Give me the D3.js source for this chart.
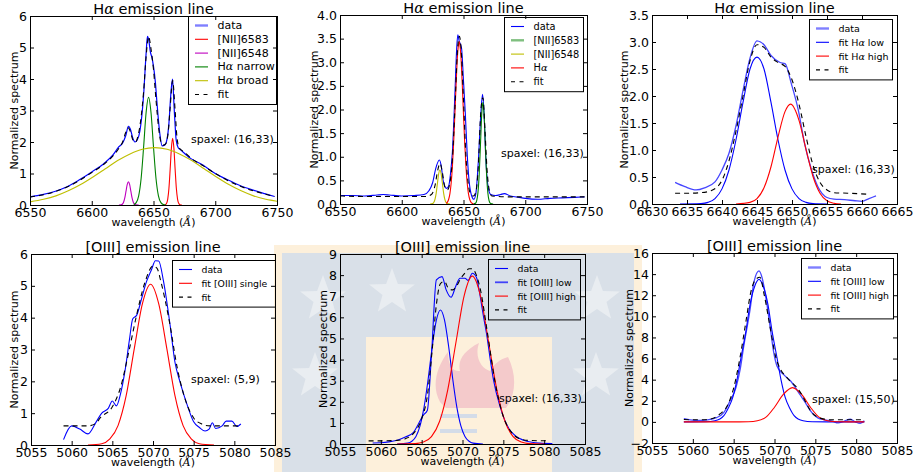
<!DOCTYPE html>
<html><head><meta charset="utf-8">
<script src="https://cdn.jsdelivr.net/npm/d3@7"></script>
<style>
body{margin:0;background:#fff}
svg{display:block}
text{font-family:"DejaVu Sans",sans-serif;fill:#000}
</style>
</head><body>
<svg id="c" width="916" height="472"></svg>
<script>
// ---------------- DATA ----------------
// Panel 1 : H-alpha, spaxel (16,33)
const p1Data = [[6550,0.26],[6560,0.33],[6570,0.43],[6580,0.58],[6590,0.8],[6600,1.05],[6610,1.32],[6617,1.58],[6622,1.85],[6625,1.97],[6627.5,2.2],[6629.7,2.5],[6631.5,2.38],[6633,2.15],[6635,2.0],[6637,2.08],[6639,2.35],[6642,3.5],[6644,4.8],[6645.1,5.35],[6646.3,5.2],[6647.5,4.85],[6648.6,4.7],[6650,4.4],[6651.5,3.9],[6652.7,3.3],[6655,2.3],[6657,1.88],[6659,1.9],[6661,2.1],[6662.5,2.6],[6664,3.5],[6665.4,4.0],[6666.7,3.1],[6668.4,2.05],[6670,1.82],[6672,1.75],[6680,1.48],[6690,1.27],[6700,1.0],[6710,0.8],[6720,0.62],[6730,0.48],[6740,0.36],[6748,0.27]];
const p1N6583 = [[6659,0],[6659.5,0.008],[6660.5,0.045],[6661.5,0.18],[6662.5,0.53],[6663.5,1.14],[6664.5,1.81],[6665.5,2.12],[6666.5,1.81],[6667.5,1.14],[6668.5,0.53],[6669.5,0.18],[6670.5,0.045],[6671.5,0.008],[6673,0]];
const p1N6548 = [[6622,0],[6623.7,0.005],[6624.7,0.023],[6625.7,0.079],[6626.7,0.215],[6627.7,0.43],[6628.7,0.645],[6629.7,0.74],[6630.7,0.645],[6631.7,0.43],[6632.7,0.215],[6633.7,0.079],[6634.7,0.023],[6635.7,0.005],[6638,0]];
const p1Narrow = [[6634,0.013],[6636,0.074],[6638,0.29],[6640,0.85],[6642,1.84],[6644,2.93],[6646,3.42],[6648,2.93],[6650,1.84],[6652,0.85],[6654,0.29],[6656,0.074],[6658,0.013],[6660,0]];
const p1Broad = [[6550,0.1],[6561,0.18],[6571,0.29],[6581,0.45],[6591,0.65],[6601,0.89],[6611,1.15],[6621,1.41],[6631,1.62],[6641,1.77],[6651,1.82],[6661,1.77],[6671,1.62],[6681,1.41],[6691,1.15],[6701,0.89],[6711,0.65],[6721,0.45],[6731,0.29],[6741,0.18],[6750,0.12]];
const p1Fit = [[6550,0.25],[6560,0.32],[6570,0.42],[6580,0.57],[6590,0.78],[6600,1.03],[6610,1.3],[6617,1.55],[6622,1.8],[6625,2.0],[6627.5,2.3],[6629.7,2.45],[6631.5,2.3],[6633.5,2.05],[6635.5,2.0],[6637.5,2.2],[6640,2.8],[6642,3.6],[6644,4.7],[6646,5.35],[6648,4.95],[6650,4.3],[6652,3.35],[6654,2.5],[6656,2.0],[6658,1.9],[6660,1.95],[6662,2.35],[6663.5,3.1],[6665.5,3.95],[6667.5,3.0],[6669,2.15],[6671,1.8],[6675,1.68],[6680,1.5],[6690,1.25],[6700,1.0],[6710,0.78],[6720,0.6],[6730,0.46],[6740,0.35],[6748,0.27]];
const p1Labels = ["data","[NII]6583","[NII]6548","Hα narrow","Hα broad","fit"];

// Panel 2 : H-alpha, spaxel (16,33)
const p2Data = [[6550,0.18],[6560,0.18],[6570,0.17],[6580,0.19],[6585,0.2],[6590,0.19],[6600,0.17],[6610,0.18],[6618,0.2],[6622,0.28],[6625,0.45],[6627.5,0.75],[6630.5,0.93],[6632,0.8],[6633.5,0.5],[6636.3,0.33],[6638,0.38],[6639.5,0.65],[6641,1.1],[6643,2.3],[6644.5,3.3],[6645.4,3.58],[6646.5,3.45],[6648.4,3.3],[6650,2.6],[6651.5,1.9],[6653,1.05],[6654.5,0.5],[6656.5,0.18],[6658.4,0.1],[6660,0.22],[6662,0.9],[6664,1.9],[6665.4,2.32],[6666.7,1.9],[6668,1.0],[6670,0.35],[6672,0.2],[6676,0.18],[6680,0.2],[6683,0.22],[6688,0.17],[6695,0.14],[6700,0.12],[6710,0.1],[6720,0.12],[6730,0.13],[6740,0.14],[6748,0.15]];
const p2N6583 = [[6658,0],[6659.7,0.015],[6660.7,0.07],[6661.7,0.24],[6662.7,0.62],[6663.7,1.23],[6664.7,1.87],[6665.7,2.15],[6666.7,1.87],[6667.7,1.23],[6668.7,0.62],[6669.7,0.24],[6670.7,0.07],[6671.7,0.015],[6674,0]];
const p2N6548 = [[6623,0],[6624.9,0.008],[6625.9,0.03],[6626.9,0.1],[6627.9,0.23],[6628.9,0.44],[6629.9,0.64],[6630.9,0.72],[6631.9,0.64],[6632.9,0.44],[6633.9,0.23],[6634.9,0.1],[6635.9,0.03],[6636.9,0.008],[6639,0]];
const p2Ha = [[6636,0.015],[6637,0.04],[6638,0.1],[6639,0.22],[6640,0.44],[6641,0.79],[6642,1.28],[6643,1.89],[6644,2.53],[6645,3.08],[6646,3.38],[6646.5,3.44],[6647,3.38],[6648,3.08],[6649,2.53],[6650,1.89],[6651,1.28],[6652,0.79],[6653,0.44],[6654,0.22],[6655,0.1],[6656,0.04],[6657,0.015],[6658,0]];
const p2Fit = [[6550,0.17],[6570,0.16],[6600,0.16],[6620,0.16],[6624,0.2],[6627,0.4],[6629,0.7],[6631,0.86],[6633,0.65],[6635,0.35],[6637,0.3],[6639,0.45],[6641,0.95],[6643,2.0],[6645,3.2],[6646.7,3.55],[6648,3.3],[6650,2.2],[6652,1.0],[6654,0.4],[6656,0.2],[6658,0.17],[6660,0.25],[6662,0.8],[6664,1.95],[6665.7,2.25],[6667.5,1.5],[6669,0.75],[6671,0.28],[6673,0.17],[6690,0.15],[6720,0.15],[6748,0.15]];
const p2Labels = ["data","[NII]6583","[NII]6548","Hα","fit"];

// Panel 3 : H-alpha two components, spaxel (16,33)
const p3Data = [[6633.3,0.4],[6634.7,0.32],[6636.3,0.26],[6637.5,0.3],[6639,0.41],[6640,0.63],[6641,0.94],[6642,1.45],[6643,2.1],[6644,2.7],[6645,3.02],[6646,2.95],[6647,2.75],[6648.3,2.62],[6649,2.6],[6649.9,2.23],[6650.9,1.74],[6651.8,1.12],[6652.8,0.63],[6653.7,0.32],[6655,0.12],[6656,0.09],[6657.5,0.08],[6659,0.06],[6660,0.05],[6661,0.1],[6662,0.15]];
const p3Low = [[6634,0],[6637,0.008],[6638,0.03],[6639,0.1],[6640,0.28],[6641,0.63],[6642,1.19],[6643,1.88],[6644,2.5],[6645,2.72],[6646,2.5],[6647,1.88],[6648,1.19],[6649,0.63],[6650,0.28],[6651,0.1],[6652,0.03],[6653,0.008],[6655,0]];
const p3High = [[6642,0],[6644,0.03],[6645,0.1],[6646,0.3],[6647,0.69],[6648,1.24],[6649,1.71],[6649.8,1.85],[6651,1.55],[6652,1.01],[6653,0.51],[6654,0.2],[6655,0.06],[6656,0.015],[6657,0]];
const p3Fit = [[6633.3,0.2],[6635,0.2],[6637,0.21],[6638.5,0.25],[6640,0.44],[6641,0.8],[6642,1.35],[6643,2.0],[6644,2.65],[6645,2.95],[6646,2.9],[6647,2.72],[6648,2.62],[6649,2.55],[6650,2.3],[6651,1.85],[6652,1.25],[6653,0.72],[6654,0.4],[6655,0.26],[6656,0.21],[6658,0.2],[6661,0.18]];
const p3Labels = ["data","fit Hα low","fit Hα high","fit"];

// Panel 4 : [OIII], spaxel (5,9)
const p4Data = [[5059,0.17],[5060,0.6],[5061,0.5],[5062,0.35],[5063,0.72],[5063.7,1.0],[5064.5,1.15],[5065,1.38],[5065.5,1.23],[5066,1.6],[5066.6,2.4],[5067.1,3.3],[5067.5,3.96],[5068,4.08],[5068.6,4.6],[5069.2,5.13],[5069.8,5.5],[5070.3,5.79],[5070.7,5.78],[5071.3,5.13],[5072.1,3.77],[5072.7,2.6],[5073.3,2.0],[5074.2,1.26],[5075,0.73],[5075.7,0.55],[5076.4,0.44],[5076.9,0.5],[5077.3,0.7],[5077.7,0.52],[5078.5,0.6],[5079,0.75],[5079.7,0.75],[5080.3,0.58],[5080.8,0.66]];
const p4Single = [[5062,0],[5063.7,0.04],[5064.7,0.19],[5065.7,0.61],[5066.7,1.55],[5067.7,3.03],[5068.7,4.44],[5069.7,5.05],[5070.7,4.44],[5071.7,3.03],[5072.7,1.55],[5073.7,0.61],[5074.7,0.19],[5075.7,0.04],[5077.5,0]];
const p4Fit = [[5059,0.6],[5060,0.6],[5062,0.6],[5063,0.68],[5063.5,0.85],[5065,1.2],[5066,1.8],[5067,2.9],[5068,4.1],[5069,5.1],[5070,5.62],[5070.5,5.55],[5071,5.1],[5072,3.9],[5073,2.4],[5074,1.4],[5075,0.85],[5076,0.66],[5077,0.6],[5080.8,0.6]];
const p4Labels = ["data","fit [OIII] single","fit"];

// Panel 5 : [OIII] two components, spaxel (16,33)
const p5Data = [[5059,0.05],[5060,0.06],[5061,0.1],[5062,0.18],[5063,0.33],[5064,0.55],[5064.6,0.95],[5065.2,1.37],[5065.7,1.6],[5066.2,4.2],[5066.8,7.77],[5067.5,7.93],[5068,7.3],[5068.6,6.95],[5069.2,7.5],[5069.7,7.85],[5070.3,7.85],[5070.7,7.75],[5071.2,8.09],[5071.7,7.9],[5072.1,7.14],[5072.5,6.2],[5073,5.09],[5073.4,4.0],[5073.8,3.03],[5074.6,1.77],[5075.2,1.1],[5075.8,0.66],[5076.5,0.38],[5077.4,0.19],[5078.5,0.08],[5079.5,0.04],[5081,0.02]];
const p5Low = [[5062,0],[5063.3,0.04],[5063.8,0.13],[5064.3,0.36],[5064.8,0.86],[5065.3,1.76],[5065.8,3.09],[5066.3,4.63],[5066.8,5.87],[5067.3,6.35],[5067.8,5.87],[5068.3,4.63],[5068.8,3.09],[5069.3,1.76],[5069.8,0.86],[5070.3,0.36],[5070.8,0.13],[5071.3,0.04],[5072.5,0]];
const p5High = [[5062,0],[5064.2,0.017],[5065.2,0.09],[5066.2,0.35],[5067.2,1.08],[5068.2,2.58],[5069.2,4.82],[5070.2,7.02],[5071.2,7.95],[5072.2,7.02],[5073.2,4.82],[5074.2,2.58],[5075.2,1.08],[5076.2,0.35],[5077.2,0.09],[5078.2,0.017],[5080,0]];
const p5Fit = [[5058.5,0.15],[5060,0.15],[5062,0.17],[5063,0.25],[5064,0.5],[5065,1.2],[5065.7,2.3],[5066.3,4.5],[5066.8,6.6],[5067.3,7.6],[5067.8,7.7],[5068.3,7.35],[5068.8,7.3],[5069.3,7.5],[5069.8,7.85],[5070.3,8.1],[5070.8,8.3],[5071.2,8.3],[5071.7,8.0],[5072.2,7.3],[5073,5.4],[5074,2.9],[5075,1.3],[5076,0.55],[5077,0.25],[5078,0.17],[5080.5,0.15]];
const p5Labels = ["data","fit [OIII] low","fit [OIII] high","fit"];

// Panel 6 : [OIII] two components, spaxel (15,50)
const p6Data = [[5058.9,0.32],[5059.7,0.2],[5060.7,0.15],[5061.8,0.2],[5062.9,0.4],[5063.8,0.9],[5064.5,1.9],[5065.3,3.3],[5065.8,5.0],[5066.2,7.0],[5067,10.6],[5067.5,13.3],[5068.1,14.3],[5068.5,13.6],[5068.9,12.0],[5069.5,8.8],[5069.9,6.6],[5070.3,5.3],[5071.1,4.5],[5072,3.85],[5073.1,2.6],[5073.8,1.8],[5074.3,1.17],[5075.3,0.38],[5076.1,0.2],[5077,0.1],[5077.8,-0.1],[5078.5,0.05],[5079.3,0.25],[5079.9,0.0],[5080.5,-0.15],[5081,0.1]];
const p6Low = [[5058.9,0],[5061.6,0.012],[5062.7,0.1],[5063.8,0.59],[5064.3,1.24],[5064.9,2.34],[5065.4,3.97],[5065.9,6.1],[5066.5,8.6],[5067,11.1],[5067.6,12.9],[5068.1,13.5],[5068.6,12.9],[5069.2,11.1],[5069.7,8.6],[5070.3,6.1],[5070.8,3.97],[5071.3,2.34],[5071.9,1.24],[5072.4,0.59],[5073.5,0.1],[5074.6,0.012],[5076.5,0],[5081,0]];
const p6High = [[5058.9,0],[5065.7,0.002],[5066.8,0.015],[5067.9,0.11],[5069,0.48],[5070,1.39],[5071.1,2.62],[5072.2,3.25],[5073.3,2.62],[5074.4,1.39],[5075.4,0.48],[5076.5,0.11],[5077.6,0.015],[5079,0],[5081,0]];
const p6Fit = [[5058.9,0.22],[5060.2,0.2],[5061.3,0.2],[5062.4,0.32],[5063.4,0.8],[5064.2,1.5],[5065,3.2],[5065.8,6.2],[5066.5,9.5],[5067.1,12.3],[5067.7,13.5],[5068.2,13.7],[5068.8,11.8],[5069.5,8.8],[5070.1,6.3],[5070.8,4.9],[5071.4,4.3],[5072,3.8],[5072.7,3.3],[5073.4,2.5],[5074,1.6],[5074.6,0.85],[5075.3,0.45],[5076.2,0.25],[5076.9,0.2],[5081,0.2]];
const p6Labels = ["data","fit [OIII] low","fit [OIII] high","fit"];

// Ticks and titles
const haTicksX = [6550,6600,6650,6700,6750];
const haZoomTicksX = [6630,6635,6640,6645,6650,6655,6660,6665];
const oiiiTicksX = [5055,5060,5065,5070,5075,5080,5085];
const p1TicksY = [0,1,2,3,4,5,6];
const p2TicksY = [0,0.5,1,1.5,2,2.5,3,3.5,4];
const p3TicksY = [0,0.5,1,1.5,2,2.5,3,3.5];
const p4TicksY = [0,1,2,3,4,5,6];
const p5TicksY = [0,1,2,3,4,5,6,7,8,9];
const p6TicksY = [-2,0,2,4,6,8,10,12,14,16];
const titles = ["Hα emission line","Hα emission line","Hα emission line","[OIII] emission line","[OIII] emission line","[OIII] emission line"];
const spaxels = ["spaxel: (16,33)","spaxel: (16,33)","spaxel: (16,33)","spaxel: (5,9)","spaxel: (16,33)","spaxel: (15,50)"];
const xLabel = "wavelength (Å)";
const yLabel = "Normalized spectrum";

// ---------------- DRAW ----------------
const svg = d3.select("#c");

// watermark (university logo) behind the lower middle panel
const wm = svg.append("g");
wm.append("rect").attr("x",274).attr("y",245).attr("width",368).attr("height",227).attr("fill","#fdf0db");
wm.append("rect").attr("x",282).attr("y",253).attr("width",352).attr("height",219).attr("fill","#d9e0e8");
function starPath(cx,cy,R,r){
  const p=[];
  for(let i=0;i<10;i++){const a=-Math.PI/2+i*Math.PI/5;const rr=i%2?r:R;p.push([cx+rr*Math.cos(a),cy+rr*Math.sin(a)]);}
  return "M"+p.map(d=>d.join(",")).join("L")+"Z";
}
[[323,299],[392,292],[597,299],[315,376],[596,376]].forEach(s=>{
  wm.append("path").attr("d",starPath(s[0],s[1],24,10)).attr("fill","#e9edf1");
});
wm.append("rect").attr("x",366).attr("y",337).attr("width",186).attr("height",135).attr("fill","#fdf0db");
wm.append("path").attr("d","M440,402 C431,386 437,366 448,352 C448,367 454,372 460,371 C457,360 465,350 479,343 C474,358 482,369 490,371 C494,364 500,359 508,357 C517,375 516,395 506,408 L446,408 Z").attr("fill","#f4cacb");
wm.append("rect").attr("x",440).attr("y",414).attr("width",37).attr("height",4).attr("fill","#d4dce8");
wm.append("rect").attr("x",440).attr("y",429).attr("width",37).attr("height",4).attr("fill","#d4dce8");

function rich(sel, str){
  const parts = str.split(/([αÅ])/);
  parts.forEach(p=>{
    if(p==="") return;
    const t = sel.append("tspan").text(p);
    if(p==="α"||p==="Å") t.style("font-family","'DejaVu Serif',serif").style("font-style","italic");
  });
}

const C = {blue:"#0000ff", red:"#ff0000", green:"#008000", mag:"#bf00bf", yel:"#bfbf00", k:"#000"};

const panels = [
  {L:30,R:277,T:16,B:205, xd:[6550,6750], yd:[0,6], xt:haTicksX, yt:p1TicksY, yf:d3.format("d"), ylx:18,
   series:[{d:p1Data,c:C.blue,w:1.2},{d:p1N6583,c:C.red},{d:p1N6548,c:C.mag},{d:p1Narrow,c:C.green},{d:p1Broad,c:C.yel},{d:p1Fit,c:C.k,dash:true}],
   labels:p1Labels, sw:[{c:C.blue,w:2.4,o:0.5},{c:C.red},{c:C.mag},{c:C.green},{c:C.yel},{c:C.k,dash:true}],
   lg:{x:188,y:16,w:88,fs:11}, sp:[191,143]},
  {L:340,R:587,T:15,B:204, xd:[6550,6750], yd:[0,4], xt:haTicksX, yt:p2TicksY, yf:d3.format(".1f"), ylx:318,
   series:[{d:p2Data,c:C.blue},{d:p2N6583,c:C.green},{d:p2N6548,c:C.yel},{d:p2Ha,c:C.red},{d:p2Fit,c:C.k,dash:true}],
   labels:p2Labels, sw:[{c:C.blue},{c:C.green,w:2.4,o:0.5},{c:C.yel},{c:C.red},{c:C.k,dash:true}],
   lg:{x:504,y:17,w:79,fs:9.8}, sp:[501,157]},
  {L:652,R:897,T:15,B:204, xd:[6630,6665], yd:[0,3.5], xt:haZoomTicksX, yt:p3TicksY, yf:d3.format(".1f"), ylx:628,
   series:[{d:p3Data,c:"#4646ff",w:1.3},{d:p3Low,c:C.blue},{d:p3High,c:C.red},{d:p3Fit,c:C.k,dash:true}],
   labels:p3Labels, sw:[{c:C.blue,w:2.4,o:0.5},{c:C.blue},{c:C.red},{c:C.k,dash:true}],
   lg:{x:809,y:19,w:83,fs:9.5}, sp:[812,173]},
  {L:31,R:275,T:254,B:445, xd:[5055,5085], yd:[0,6], xt:oiiiTicksX, yt:p4TicksY, yf:d3.format("d"), ylx:18,
   series:[{d:p4Data,c:C.blue},{d:p4Single,c:C.red},{d:p4Fit,c:C.k,dash:true}],
   labels:p4Labels, sw:[{c:C.blue},{c:C.red},{c:C.k,dash:true}],
   lg:{x:172,y:260,w:103,fs:9.3}, sp:[191,383]},
  {L:340,R:585,T:254,B:444, xd:[5055,5085], yd:[0,9], xt:oiiiTicksX, yt:p5TicksY, yf:d3.format("d"), ylx:327,
   series:[{d:p5Data,c:C.blue},{d:p5Low,c:C.blue},{d:p5High,c:C.red},{d:p5Fit,c:C.k,dash:true}],
   labels:p5Labels, sw:[{c:C.blue},{c:C.blue,w:1.8,o:0.7},{c:C.red},{c:C.k,dash:true}],
   lg:{x:488,y:259,w:92,fs:9.3}, sp:[499,402]},
  {L:652,R:897,T:253,B:443, xd:[5055,5085], yd:[-2,16], xt:oiiiTicksX, yt:p6TicksY, yf:d3.format("d"), ylx:633,
   series:[{d:p6Data,c:"#4646ff",w:1.3},{d:p6Low,c:C.blue},{d:p6High,c:C.red},{d:p6Fit,c:C.k,dash:true}],
   labels:p6Labels, sw:[{c:C.blue,w:2.4,o:0.5},{c:C.blue},{c:C.red},{c:C.k,dash:true}],
   lg:{x:801,y:258,w:92,fs:9.3}, sp:[812,403]}
];

panels.forEach((P,i)=>{
  const x = d3.scaleLinear().domain(P.xd).range([P.L,P.R]);
  const y = d3.scaleLinear().domain(P.yd).range([P.B,P.T]);
  const g = svg.append("g");
  const cid = "clip"+i;
  svg.append("clipPath").attr("id",cid).append("rect").attr("x",P.L).attr("y",P.T).attr("width",P.R-P.L).attr("height",P.B-P.T);
  const line = d3.line().x(d=>x(d[0])).y(d=>y(d[1])).curve(d3.curveMonotoneX);
  const sg = g.append("g").attr("clip-path",`url(#${cid})`);
  P.series.forEach(s=>{
    sg.append("path").datum(s.d).attr("d",line).attr("fill","none")
      .attr("stroke",s.c).attr("stroke-width",s.w||1.1)
      .attr("stroke-dasharray",s.dash?"5,4":null);
  });

  const styleAxis = a => { a.select(".domain").remove(); a.selectAll("line").attr("stroke","#000"); a.selectAll("text").attr("font-size",12.5).attr("fill","#000").attr("font-family","DejaVu Sans"); };
  g.append("g").attr("transform",`translate(0,${P.B})`).call(d3.axisBottom(x).tickValues(P.xt).tickSize(-4).tickPadding(3).tickFormat(d3.format("d"))).call(styleAxis);
  g.append("g").attr("transform",`translate(0,${P.T})`).call(d3.axisTop(x).tickValues(P.xt).tickSize(-4).tickFormat("")).call(styleAxis);
  g.append("g").attr("transform",`translate(${P.L},0)`).call(d3.axisLeft(y).tickValues(P.yt).tickSize(-4).tickPadding(3).tickFormat(P.yf)).call(styleAxis);
  g.append("g").attr("transform",`translate(${P.R},0)`).call(d3.axisRight(y).tickValues(P.yt).tickSize(-4).tickFormat("")).call(styleAxis);
  g.append("rect").attr("x",P.L+0.5).attr("y",P.T+0.5).attr("width",P.R-P.L).attr("height",P.B-P.T)
    .attr("fill","none").attr("stroke","#000").attr("stroke-width",1);

  rich(g.append("text").attr("x",(P.L+P.R)/2).attr("y",P.T-2.5).attr("text-anchor","middle").attr("font-size",14.5), titles[i]);
  rich(g.append("text").attr("x",(P.L+P.R)/2).attr("y",P.B+21).attr("text-anchor","middle").attr("font-size",11), xLabel);
  g.append("text").attr("transform",`translate(${P.ylx},${(P.T+P.B)/2}) rotate(-90)`).attr("text-anchor","middle").attr("font-size",11).text(yLabel);
  g.append("text").attr("x",P.sp[0]).attr("y",P.sp[1]).attr("font-size",11).text(spaxels[i]);

  const n = P.labels.length, rowH = 13.8;
  const lg = g.append("g");
  lg.append("rect").attr("x",P.lg.x+0.5).attr("y",P.lg.y+0.5).attr("width",P.lg.w).attr("height",19+(n-1)*rowH)
    .attr("fill","none").attr("stroke","#000").attr("stroke-width",1);
  P.labels.forEach((lab,j)=>{
    const cy = P.lg.y+9.5+j*rowH;
    const s = P.sw[j];
    lg.append("line").attr("x1",P.lg.x+7).attr("x2",P.lg.x+20).attr("y1",cy).attr("y2",cy)
      .attr("stroke",s.c).attr("stroke-width",s.w||1.1).attr("stroke-opacity",s.o||1)
      .attr("stroke-dasharray",s.dash?"4,4.5":null);
    rich(lg.append("text").attr("x",P.lg.x+29.5).attr("y",cy+3.5).attr("font-size",P.lg.fs), lab);
  });
});
</script>
</body></html>
